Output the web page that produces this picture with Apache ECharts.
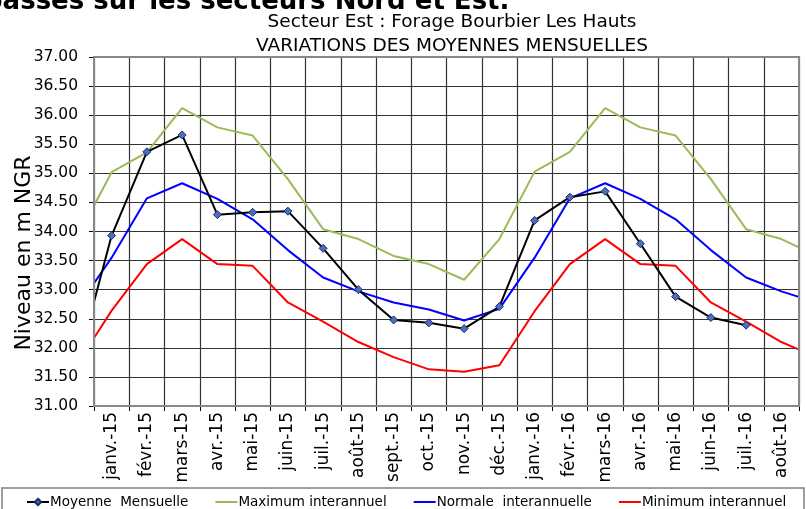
<!DOCTYPE html>
<html>
<head>
<meta charset="utf-8">
<script src="https://cdn.jsdelivr.net/npm/echarts@6/dist/echarts.min.js"></script>
<style>
  html, body { margin: 0; padding: 0; background: #fff; }
  #chart { width: 806px; height: 509px; }
</style>
</head>
<body>
<div id="chart"></div>
<script>
// mois : déc.-14 et sept.-16 sont hors cadre, les courbes sont coupées au bord
const moisComplets = ['déc.-14', 'janv.-15', 'févr.-15', 'mars-15', 'avr.-15', 'mai-15', 'juin-15',
  'juil.-15', 'août-15', 'sept.-15', 'oct.-15', 'nov.-15', 'déc.-15', 'janv.-16', 'févr.-16',
  'mars-16', 'avr.-16', 'mai-16', 'juin-16', 'juil.-16', 'août-16', 'sept.-16']
const moisAffiches = moisComplets.slice(1, 21)

const moyenne = [31.65, 33.93, 35.37, 35.66, 34.29, 34.33, 34.35, 33.71, 33.00, 32.48, 32.43, 32.33,
  32.71, 34.19, 34.59, 34.69, 33.79, 32.88, 32.52, 32.39, null, null]
const maximum = [33.87, 35.02, 35.36, 36.12, 35.79, 35.65, 34.90, 34.04, 33.87, 33.58, 33.44, 33.17,
  33.87, 35.03, 35.37, 36.12, 35.79, 35.65, 34.90, 34.04, 33.87, 33.58]
const normale = [32.67, 33.55, 34.57, 34.83, 34.56, 34.21, 33.68, 33.21, 32.97, 32.78, 32.66, 32.47,
  32.67, 33.55, 34.57, 34.83, 34.56, 34.21, 33.68, 33.21, 32.97, 32.78]
const minimum = [31.70, 32.64, 33.44, 33.87, 33.44, 33.41, 32.78, 32.45, 32.10, 31.84, 31.63, 31.59,
  31.70, 32.63, 33.44, 33.87, 33.44, 33.41, 32.78, 32.45, 32.10, 31.84]

const titre1 = 'Secteur Est : Forage Bourbier Les Hauts'
const titre2 = 'VARIATIONS DES MOYENNES MENSUELLES'

const font = 'DejaVu Sans, Verdana, sans-serif'

// index -1 = déc.-14, 0 = janv.-15 ...
const pts = arr => arr.map((v, i) => [i - 1, v])

const chart = echarts.init(document.getElementById('chart'), null, { renderer: 'canvas' })

chart.setOption({
  animation: false,
  textStyle: { fontFamily: font, color: '#000' },
  title: {
    text: titre1 + '\n' + titre2,
    left: 447,
    top: 5,
    textAlign: 'center',
    textStyle: { fontFamily: font, fontSize: 18.5, fontWeight: 'normal', color: '#000', lineHeight: 24 },
  },
  grid: { left: 94, right: 7, top: 57, bottom: 103 },
  legend: {
    left: 21,
    top: 490,
    itemWidth: 22,
    itemHeight: 8,
    itemGap: 26,
    textStyle: { fontFamily: font, fontSize: 13.5, color: '#000', padding: [0, 0, 0, -4] },
    data: [
      { name: 'Moyenne  Mensuelle' },
      { name: 'Maximum interannuel', itemStyle: { opacity: 0 } },
      { name: 'Normale  interannuelle', itemStyle: { opacity: 0 } },
      { name: 'Minimum interannuel', itemStyle: { opacity: 0 } },
    ],
  },
  xAxis: [
    {
      type: 'category',
      data: moisAffiches,
      boundaryGap: true,
      axisLine: { lineStyle: { color: '#000', width: 1.5 } },
      axisTick: { show: true, interval: 0, length: 5, lineStyle: { color: '#000' } },
      axisLabel: { interval: 0, rotate: 90, fontSize: 17, color: '#000', fontFamily: font, margin: 6 },
      splitLine: { show: true, interval: 0, lineStyle: { color: '#333', width: 1.2 } },
    },
    {
      type: 'value',
      min: -0.5,
      max: 19.5,
      show: false,
    },
  ],
  yAxis: {
    type: 'value',
    min: 31,
    max: 37,
    interval: 0.5,
    axisLine: { show: true, onZero: false, lineStyle: { color: '#000', width: 1.5 } },
    axisTick: { show: true, length: 5, lineStyle: { color: '#000' } },
    axisLabel: { fontSize: 15.5, color: '#000', fontFamily: font, margin: 16, formatter: v => v.toFixed(2) },
    splitLine: { show: true, lineStyle: { color: '#333', width: 1.2 } },
  },
  graphic: [
    {
      type: 'text',
      left: -16,
      top: -11,
      style: { text: 'basses sur les secteurs Nord et Est.', fontFamily: font, fontSize: 26, fontWeight: 'bold', fill: '#000' },
    },
    {
      type: 'text',
      x: 24,
      y: 253,
      rotation: Math.PI / 2,
      style: { text: 'Niveau en m NGR', fontFamily: font, fontSize: 22, fill: '#000', align: 'center', verticalAlign: 'middle' },
    },
    {
      type: 'rect',
      shape: { x: 94, y: 57, width: 705, height: 349 },
      style: { fill: 'none', stroke: '#888', lineWidth: 2 },
      z: 5,
    },
    {
      type: 'rect',
      shape: { x: 2, y: 488, width: 802, height: 30 },
      style: { fill: 'none', stroke: '#808080', lineWidth: 1.5 },
    },
  ],
  series: [
    {
      name: 'Maximum interannuel',
      type: 'line',
      xAxisIndex: 1,
      data: pts(maximum),
      symbol: 'none',
      color: '#9BBB59',
      lineStyle: { color: '#9BBB59', width: 2 },
      z: 3,
    },
    {
      name: 'Normale  interannuelle',
      type: 'line',
      xAxisIndex: 1,
      data: pts(normale),
      symbol: 'none',
      color: '#0000FF',
      lineStyle: { color: '#0000FF', width: 2 },
      z: 3,
    },
    {
      name: 'Minimum interannuel',
      type: 'line',
      xAxisIndex: 1,
      data: pts(minimum),
      symbol: 'none',
      color: '#FF0000',
      lineStyle: { color: '#FF0000', width: 2 },
      z: 3,
    },
    {
      name: 'Moyenne  Mensuelle',
      type: 'line',
      xAxisIndex: 1,
      data: pts(moyenne),
      symbol: 'diamond',
      symbolSize: 8,
      showAllSymbol: true,
      color: '#000',
      lineStyle: { color: '#000', width: 2 },
      itemStyle: { color: '#4A6FC0', borderColor: '#1B2A66', borderWidth: 1 },
      z: 4,
    },
  ],
})
</script>
</body>
</html>
